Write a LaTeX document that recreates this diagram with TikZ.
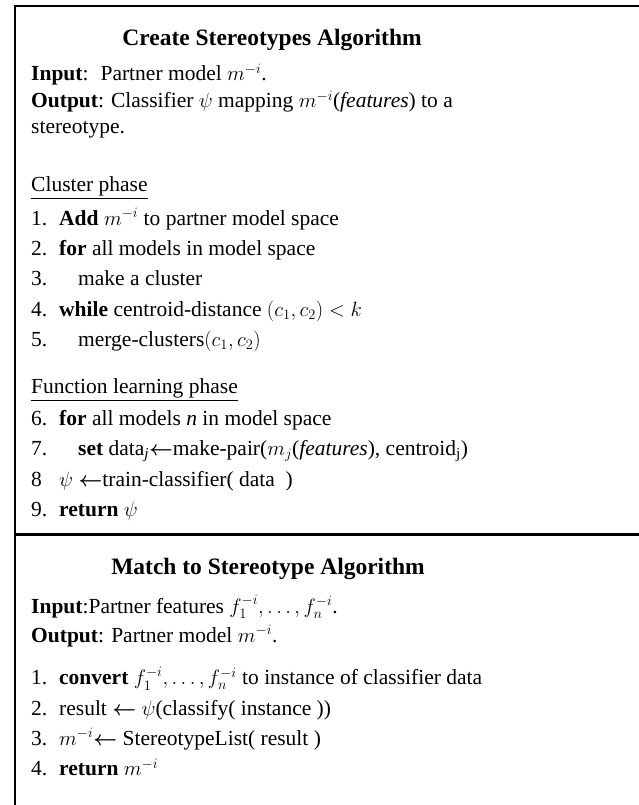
\documentclass[tikz,border=0pt]{standalone}
\usepackage{fontspec}
\setmainfont{Liberation Serif}
\usepackage{amsmath}

\newcommand{\bodyfont}{\fontsize{21.5}{25}\selectfont}
\newcommand{\titlefont}{\fontsize{23.5}{27}\selectfont\bfseries}
\newcommand{\mi}{$m^{-i}$}
\newcommand{\getsarrow}{$\boldsymbol{\leftarrow}$}

\tikzset{%
  every line/.style={
    anchor=base west,
    inner sep=0pt,
    font=\bodyfont
  },
  title line/.style={
    anchor=base,
    inner sep=0pt,
    font=\titlefont
  },
  frame line/.style={
    line width=2pt,
    line cap=rect
  },
}

\begin{document}
\begin{tikzpicture}[x=1pt,y=-1pt]
\useasboundingbox (0,0) rectangle (639,805);

% frame
\draw [frame line] (15,6) -- (639,6);
\draw [frame line] (15,6) -- (15,805);
\draw [frame line, line width=3pt] (15,534) -- (639,534);

% create stereotypes
\node [title line] (create-title) at (272,46) {Create Stereotypes Algorithm};
\node [every line] (create-input) at (31,81)
  {\textbf{Input}:\hspace{12pt}Partner model \mi.};
\node [every line] (create-output) at (31,108)
  {\textbf{Output}:\hspace{7pt}Classifier $\psi$ mapping \mi(\textit{features}) to a};
\node [every line] (create-output2) at (31,134) {stereotype.};

\node [every line] (cluster-head) at (31,191) {\underline{Cluster phase}};
\foreach \l/\txt [count=\i] in {
    1./{\textbf{Add} \mi{} to partner model space},
    2./{\textbf{for} all models in model space},
    3./{\hspace{19pt}make a cluster},
    4./{\textbf{while} centroid-distance $(c_1,c_2) < k$},
    5./{\hspace{19pt}merge-clusters$(c_1,c_2)$}}
  \node [every line] (cluster-\i) at (31,195+\i*30.3) {\makebox[28pt][l]{\l}\txt};

\node [every line] (learn-head) at (31,393) {\underline{Function learning phase}};
\foreach \l/\txt [count=\i] in {
    6./{\textbf{for} all models \textit{n} in model space},
    7./{\hspace{19pt}\textbf{set} data\textsubscript{\textit{j}}\getsarrow make-pair($m_j$(\textit{features}), centroid\textsubscript{j})},
    8/{$\psi$ \getsarrow train-classifier( data~~)},
    9./{\textbf{return} $\psi$}}
  \node [every line] (learn-\i) at (31,394.5+\i*30.5) {\makebox[28pt][l]{\l}\txt};

% match to stereotype
\node [title line] (match-title) at (268,574) {Match to Stereotype Algorithm};
\node [every line] (match-input) at (31,613)
  {\textbf{Input}:Partner features $f_1^{-i},\dots,f_n^{-i}$.};
\node [every line] (match-output) at (31,642)
  {\textbf{Output}: Partner model \mi.};
\foreach \txt [count=\i] in {
    {\textbf{convert} $f_1^{-i},\dots,f_n^{-i}$ to instance of classifier data},
    {result \getsarrow{} $\psi$(classify( instance ))},
    {\mi\getsarrow{} StereotypeList( result )},
    {\textbf{return} \mi}}
  \node [every line] (match-\i) at (31,654.5+\i*30.3) {\makebox[28pt][l]{\i.}\txt};

\end{tikzpicture}
\end{document}
